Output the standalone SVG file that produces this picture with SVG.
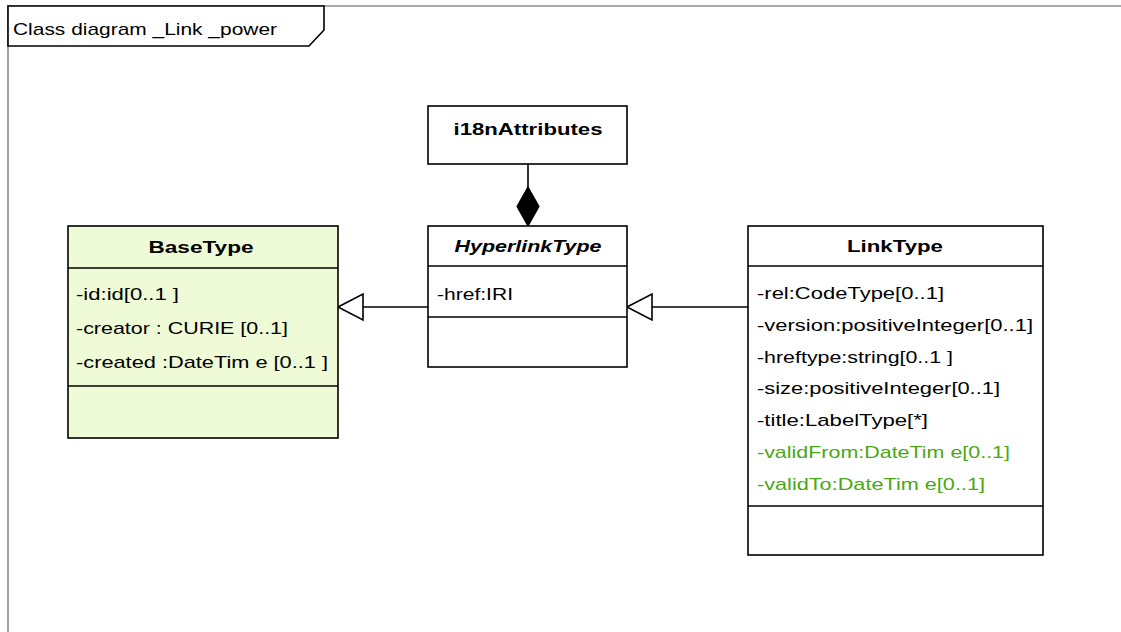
<svg xmlns="http://www.w3.org/2000/svg" width="1121" height="632" viewBox="0 0 1121 632">
  <style>
    text { font-family: "Liberation Sans", Arial, sans-serif; font-size: 17px; fill: #000; }
    .hdr { font-weight: bold; text-anchor: middle; }
    .ital { font-style: italic; }
    .green { fill: #4aa812; }
    .box { fill: #fff; stroke: #000; stroke-width: 1.6; }
    .base { fill: #eefbd6; }
    .sep { stroke: #000; stroke-width: 1.6; }
    .edge { fill: none; stroke: #000; stroke-width: 1.6; }
    .gen { fill: #fff; stroke: #000; stroke-width: 1.6; }
  </style>

  <rect width="1121" height="632" fill="#fff"/>

  <!-- diagram frame -->
  <g id="frame">
    <path d="M8,632 V6 H1121" fill="none" stroke="#8a8a8a" stroke-width="1.6"/>
    <path d="M8,6 H324 V30 L309,46 H8 Z" fill="#fff" stroke="#000" stroke-width="1.6"/>
    <text x="13" y="35" font-size="18" textLength="264" lengthAdjust="spacingAndGlyphs">Class diagram _Link _power</text>
  </g>

  <!-- connectors -->
  <g id="connectors">
    <!-- composition i18nAttributes -> HyperlinkType -->
    <line class="edge" x1="528" y1="164" x2="528" y2="187"/>
    <polygon points="528,187 539,206.5 528,226 517,206.5" fill="#000" stroke="#000" stroke-width="1.2"/>
    <!-- HyperlinkType generalizes BaseType -->
    <line class="edge" x1="363" y1="307" x2="428" y2="307"/>
    <polygon class="gen" points="338,307 363,294 363,320"/>
    <!-- LinkType generalizes HyperlinkType -->
    <line class="edge" x1="652" y1="307" x2="748" y2="307"/>
    <polygon class="gen" points="627,307 652,294 652,320"/>
  </g>

  <!-- BaseType -->
  <g id="BaseType">
    <rect class="box base" x="68" y="226" width="270" height="212"/>
    <line class="sep" x1="68" y1="268" x2="338" y2="268"/>
    <line class="sep" x1="68" y1="386" x2="338" y2="386"/>
    <text class="hdr" x="201" y="253" textLength="105" lengthAdjust="spacingAndGlyphs">BaseType</text>
    <text x="76" y="300" textLength="103" lengthAdjust="spacingAndGlyphs">-id:id[0..1 ]</text>
    <text x="76" y="334" textLength="212" lengthAdjust="spacingAndGlyphs">-creator : CURIE [0..1]</text>
    <text x="76" y="368" textLength="252" lengthAdjust="spacingAndGlyphs">-created :DateTim e [0..1 ]</text>
  </g>

  <!-- i18nAttributes -->
  <g id="i18nAttributes">
    <rect class="box" x="428" y="106" width="199" height="58"/>
    <text class="hdr" x="528" y="135" textLength="149" lengthAdjust="spacingAndGlyphs">i18nAttributes</text>
  </g>

  <!-- HyperlinkType -->
  <g id="HyperlinkType">
    <rect class="box" x="428" y="226" width="199" height="141"/>
    <line class="sep" x1="428" y1="266" x2="627" y2="266"/>
    <line class="sep" x1="428" y1="317" x2="627" y2="317"/>
    <text class="hdr ital" x="528" y="252" textLength="147" lengthAdjust="spacingAndGlyphs">HyperlinkType</text>
    <text x="437" y="300" textLength="76" lengthAdjust="spacingAndGlyphs">-href:IRI</text>
  </g>

  <!-- LinkType -->
  <g id="LinkType">
    <rect class="box" x="748" y="226" width="295" height="329"/>
    <line class="sep" x1="748" y1="266" x2="1043" y2="266"/>
    <line class="sep" x1="748" y1="506" x2="1043" y2="506"/>
    <text class="hdr" x="895" y="252" textLength="96" lengthAdjust="spacingAndGlyphs">LinkType</text>
    <text x="757" y="299" textLength="187" lengthAdjust="spacingAndGlyphs">-rel:CodeType[0..1]</text>
    <text x="757" y="331" textLength="276" lengthAdjust="spacingAndGlyphs">-version:positiveInteger[0..1]</text>
    <text x="757" y="363" textLength="196" lengthAdjust="spacingAndGlyphs">-hreftype:string[0..1 ]</text>
    <text x="757" y="394" textLength="243" lengthAdjust="spacingAndGlyphs">-size:positiveInteger[0..1]</text>
    <text x="757" y="426" textLength="171" lengthAdjust="spacingAndGlyphs">-title:LabelType[*]</text>
    <text class="green" x="757" y="458" textLength="253" lengthAdjust="spacingAndGlyphs">-validFrom:DateTim e[0..1]</text>
    <text class="green" x="757" y="490" textLength="228" lengthAdjust="spacingAndGlyphs">-validTo:DateTim e[0..1]</text>
  </g>
</svg>
